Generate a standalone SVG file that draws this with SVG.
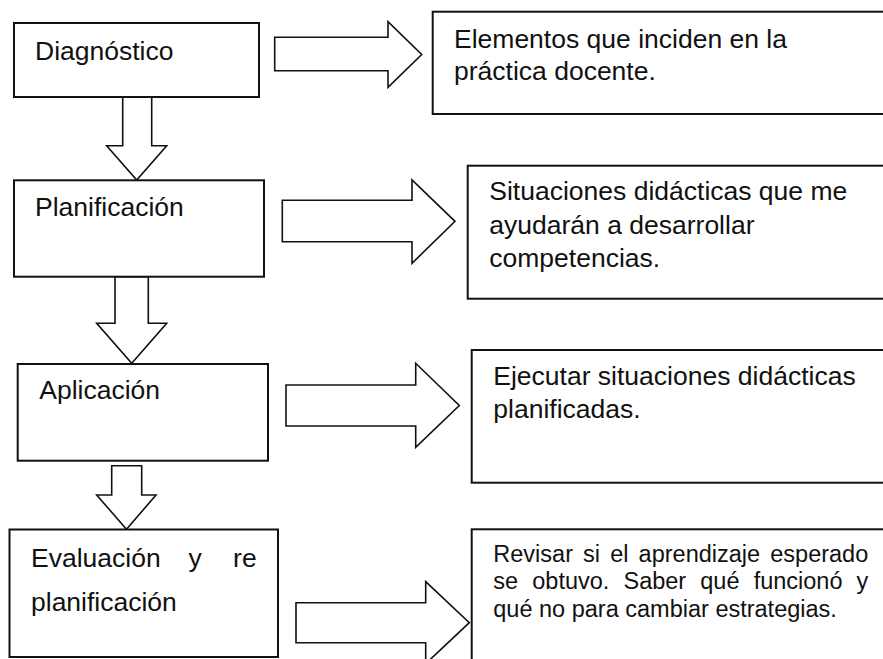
<svg xmlns="http://www.w3.org/2000/svg" width="883" height="659" viewBox="0 0 883 659">
<style>
.box{fill:#fff;stroke:#111;stroke-width:2}
.arr{fill:#fff;stroke:#111;stroke-width:1.6;stroke-linejoin:miter}
text{font-family:"Liberation Sans",Arial,sans-serif;font-size:26.5px;fill:#111}
.sm{font-size:23.5px}
</style>
<rect width="883" height="659" fill="#fff"/>
<g id="connectors">
<polygon class="arr" points="274.7,37.3 388,37.3 388,21.7 421.7,54.5 388,87.3 388,70.7 274.7,70.7"/>
<polygon class="arr" points="282.3,200.3 412,200.3 412,180 455,221.3 412,263.3 412,241.7 282.3,241.7"/>
<polygon class="arr" points="286,385 415.7,385 415.7,363.3 459.3,405.5 415.7,447.3 415.7,426 286,426"/>
<polygon class="arr" points="296,602.7 425.7,602.7 425.7,581.7 469.3,622.7 425.7,663.7 425.7,642.7 296,642.7"/>
<polygon class="arr" points="122.7,97 151.7,97 151.7,145.7 166.7,145.7 136.7,180 106.7,145.7 122.7,145.7"/>
<polygon class="arr" points="115,276.7 148.3,276.7 148.3,323.3 166.7,323.3 131.7,363.3 96.7,323.3 115,323.3"/>
<polygon class="arr" points="111.7,465.7 141.7,465.7 141.7,495 156,495 126.5,529.3 96.7,495 111.7,495"/>
</g>
<g id="n-diagnostico">
<rect class="box" x="14" y="23" width="245" height="74"/>
<text x="35" y="60">Diagnóstico</text>
</g>
<g id="n-planificacion">
<rect class="box" x="14" y="180.3" width="250" height="96.4"/>
<text x="35" y="216">Planificación</text>
</g>
<g id="n-aplicacion">
<rect class="box" x="17.7" y="364" width="250.3" height="96.7"/>
<text x="39.3" y="399.3">Aplicación</text>
</g>
<g id="n-evaluacion">
<rect class="box" x="9.5" y="529.5" width="268.5" height="127.5"/>
<text x="31" y="566.5">Evaluación</text>
<text x="195" y="566.5" text-anchor="middle">y</text>
<text x="256.7" y="566.5" text-anchor="end">re</text>
<text x="31" y="611">planificación</text>
</g>
<g id="n-elementos">
<rect class="box" x="432.7" y="11.7" width="470" height="102.3"/>
<text x="454" y="47.7">Elementos que inciden en la</text>
<text x="454" y="80">práctica docente.</text>
</g>
<g id="n-situaciones">
<rect class="box" x="467.7" y="165.7" width="440" height="133"/>
<text x="489.3" y="200">Situaciones didácticas que me</text>
<text x="489.3" y="233.5">ayudarán a desarrollar</text>
<text x="489.3" y="267">competencias.</text>
</g>
<g id="n-ejecutar">
<rect class="box" x="471.7" y="350" width="440" height="132.7"/>
<text x="493.3" y="385">Ejecutar situaciones didácticas</text>
<text x="493.3" y="418.3">planificadas.</text>
</g>
<g id="n-revisar">
<rect class="box" x="471.7" y="529.3" width="440" height="160"/>
<text class="sm" x="493.3" y="561.7" word-spacing="3.6">Revisar si el aprendizaje esperado</text>
<text class="sm" x="493.3" y="589.3" word-spacing="7.6">se obtuvo. Saber qué funcionó y</text>
<text class="sm" x="493.3" y="616.7">qué no para cambiar estrategias.</text>
</g>
</svg>
